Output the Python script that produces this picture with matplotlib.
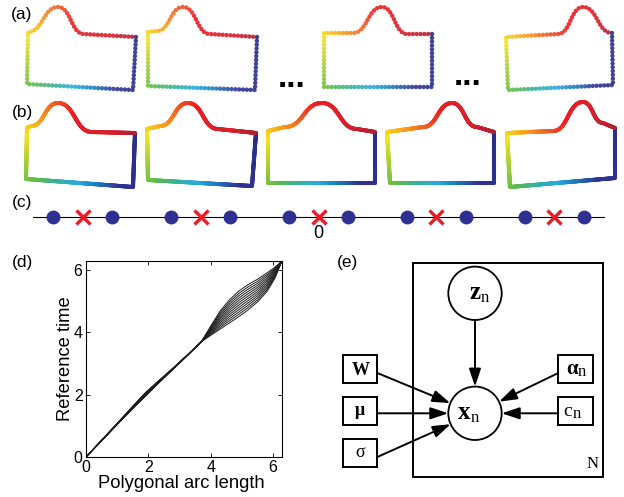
import numpy as np
import matplotlib
matplotlib.use('Agg')
import matplotlib.pyplot as plt
from matplotlib.collections import LineCollection
from matplotlib.colors import LinearSegmentedColormap
from matplotlib.patches import Circle, Rectangle, FancyArrowPatch

plt.rcParams['font.family'] = ['Liberation Sans', 'DejaVu Sans']

# ---------------- data ----------------
# Shape outlines, relative to the top-left corner (px):
# top-right, bottom-right, bottom-left, bump start, bump peak, bump end
shapes_a = [
    [(108, 5), (105, 58), (-1, 52), (0, 0), (30, -25), (56, 2)],
    [(109, 5), (107, 58), (0, 54), (9, -1), (35, -25), (62, 2)],
    [(108, 1), (108, 54), (0, 54), (29, 0), (58, -26), (83, 1)],
    [(106, -4), (107, 48), (2, 53), (52, -3), (77, -30), (106, -4)],
]
shapes_b = [
    [(108, 5), (106, 59), (-1, 51), (4, -2), (31, -25), (65, 4)],
    [(109, 4), (105, 57), (1, 51), (13, -3), (41, -26), (71, 0)],
    [(107, 1), (107, 52), (0, 52), (17, -4), (54, -28), (89, -2)],
    [(107, 0), (107, 51), (3, 51), (36, -5), (65, -29), (90, -5)],
    [(108, -5), (108, 45), (3, 54), (46, -2), (76, -31), (96, -10)],
]

# Panel (c): positions in units of the period
dot_pos = [-2.25, -1.75, -1.25, -0.75, -0.25, 0.25, 0.75, 1.25, 1.75, 2.25]
cross_pos = [-2, -1, 0, 1, 2]

# Panel (d): warping functions, deviation of reference time from arc length
arc_knots = [0, 0.5, 1.0, 1.5, 1.9, 2.3, 2.8, 3.3, 3.7, 4.0, 4.3, 4.6, 4.9, 5.2, 5.5, 5.8, 6.05, 6.28]
warp_dev = [
    [0, .020, .040, .050, .040, .040, .020, .000, 0, -.100, -.200, -.300, -.400, -.480, -.530, -.500, -.330, 0],
    [0, .022, .044, .057, .051, .047, .024, .002, 0, -.073, -.147, -.233, -.325, -.406, -.464, -.445, -.297, 0],
    [0, .024, .047, .065, .062, .055, .027, .004, 0, -.045, -.095, -.165, -.251, -.333, -.397, -.391, -.265, 0],
    [0, .025, .051, .072, .073, .062, .031, .005, 0, -.018, -.042, -.098, -.176, -.259, -.331, -.336, -.232, 0],
    [0, .027, .055, .079, .084, .069, .035, .007, 0, .009, .011, -.031, -.102, -.185, -.265, -.282, -.199, 0],
    [0, .029, .058, .086, .095, .076, .038, .009, 0, .036, .064, .036, -.027, -.112, -.198, -.227, -.166, 0],
    [0, .031, .062, .094, .105, .084, .042, .011, 0, .064, .116, .104, .047, -.038, -.132, -.173, -.134, 0],
    [0, .033, .065, .101, .116, .091, .045, .013, 0, .091, .169, .171, .122, .035, -.065, -.118, -.101, 0],
    [0, .035, .069, .108, .127, .098, .049, .015, 0, .118, .222, .238, .196, .109, .001, -.064, -.068, 0],
    [0, .036, .073, .115, .138, .105, .053, .016, 0, .145, .275, .305, .271, .183, .067, -.009, -.035, 0],
    [0, .038, .076, .123, .149, .113, .056, .018, 0, .173, .327, .373, .345, .256, .134, .045, -.003, 0],
    [0, .040, .080, .130, .160, .120, .060, .020, 0, .200, .380, .440, .420, .330, .200, .100, .030, 0],
]
d_ticks = [0, 2, 4, 6]

# ---------------- layout / style ----------------
W, H = 624, 497
offsets_a = [(28, 32), (148, 32), (324, 33), (506, 37)]
offsets_b = [(27, 128), (147, 129), (268, 131), (387, 132), (507, 133)]

cm_pos = [0.0, 0.20, 0.26, 0.32, 0.385, 0.44, 0.52, 0.60, 0.68, 0.76, 0.80, 0.93, 1.0]
cm_col = ['#2b2e83', '#2e3192', '#1c75bc', '#27aae1', '#35b29a', '#5dba4a', '#a6ce39',
          '#f4e41c', '#f7941d', '#ef4123', '#ed1c24', '#d7202b', '#b11f33']
cmap = LinearSegmentedColormap.from_list('outline', list(zip(cm_pos, cm_col)))


def outline(kp, n=80):
    TR, BR, BL, BS, P, BE = [np.asarray(p, float) for p in kp]
    TL = np.zeros(2)
    t = np.linspace(0, 1, n)[:, None]

    def line(a, b):
        return a + (b - a) * t

    def cubic(p0, p3, k=0.5):
        dx = p3[0] - p0[0]
        p1 = p0 + np.array([k * dx, 0])
        p2 = p3 - np.array([k * dx, 0])
        return ((1 - t) ** 3) * p0 + 3 * ((1 - t) ** 2) * t * p1 + 3 * (1 - t) * t ** 2 * p2 + t ** 3 * p3

    pts = np.vstack([line(TR, BR), line(BR, BL), line(BL, TL), line(TL, BS),
                     cubic(BS, P), cubic(P, BE), line(BE, TR)])
    d = np.hypot(*np.diff(pts, axis=0).T)
    keep = np.concatenate([[True], d > 1e-9])
    pts = pts[keep]
    s = np.concatenate([[0], np.cumsum(d[d > 1e-9])])
    return pts, s


def resample(pts, s, m):
    L = s[-1]
    sn = np.linspace(0, L, m, endpoint=False)
    return np.column_stack([np.interp(sn, s, pts[:, 0]), np.interp(sn, s, pts[:, 1])]), sn / L


fig = plt.figure(figsize=(W / 100, H / 100), dpi=100)
ax = fig.add_axes([0, 0, 1, 1])
ax.set_xlim(0, W)
ax.set_ylim(H, 0)
ax.axis('off')

# panel (a): dotted outlines
for kp, off in zip(shapes_a, offsets_a):
    pts, s = outline(kp)
    m = int(s[-1] / 3.8)
    p, tt = resample(pts, s, m)
    p = p + np.array(off)
    ax.scatter(p[:, 0], p[:, 1], c=cmap(tt), s=10, linewidths=0, alpha=0.9, zorder=3)

# panel (b): smooth outlines
for kp, off in zip(shapes_b, offsets_b):
    pts, s = outline(kp)
    p, tt = resample(pts, s, 600)
    p = np.vstack([p, p[:1]]) + np.array(off)
    segs = np.stack([p[:-1], p[1:]], axis=1)
    lc = LineCollection(segs, colors=cmap(tt), linewidths=2.9, capstyle='round', joinstyle='round')
    ax.add_collection(lc)

ax.text(292, 87, '...', ha='center', va='baseline', fontsize=24, fontweight='bold')
ax.text(468, 85, '...', ha='center', va='baseline', fontsize=24, fontweight='bold')

# panel labels
for lab, (x, y) in zip(['(a)', '(b)', '(c)', '(d)', '(e)'],
                       [(11, 15), (12, 113), (12, 202), (12, 262), (337, 263)]):
    ax.text(x, y, lab, ha='left', va='center', fontsize=12.5)

# panel (e): graphical model
serif = 'Liberation Serif'
ax.add_patch(Rectangle((413, 263), 190, 214, fill=False, lw=1.4, ec='k'))
r = 26.7
cz, cx = (475, 293.3), (475, 413.3)
for c in (cz, cx):
    ax.add_patch(Circle(c, r, fc='white', ec='k', lw=1.3, zorder=3))
boxes = [(343.3, 355, 34, 28.3), (343.3, 396.7, 34, 28.3), (343.3, 439, 34, 27.7),
         (558.3, 355, 34.4, 28.3), (558.3, 396.7, 34.4, 28.3)]
for (bx, by, bw, bh) in boxes:
    ax.add_patch(Rectangle((bx, by), bw, bh, fc='white', ec='k', lw=1.4, zorder=3))

astyle = '-|>,head_length=0.9,head_width=0.3'
ax.add_patch(FancyArrowPatch((475, 293.3 + r), (475, 413.3 - r), arrowstyle=astyle, mutation_scale=12,
                             lw=1.4, color='k', shrinkA=0, shrinkB=0, zorder=4))
for src in [(377.3, 373), (377.3, 413.3), (377.3, 457), (558.3, 373), (558.3, 413.3)]:
    v = np.array(cx) - np.array(src)
    tip = np.array(cx) - r * v / np.hypot(*v)
    ax.add_patch(FancyArrowPatch(src, tuple(tip), arrowstyle=astyle, mutation_scale=12,
                                 lw=1.4, color='k', shrinkA=0, shrinkB=0, zorder=4))


def node_text(x, y, main, sub=None, size=18, bold=True, subsize=12, subdy=3):
    ax.text(x, y, main, ha='right' if sub else 'center', va='baseline', fontsize=size,
            family=serif, fontweight='bold' if bold else 'normal', zorder=5)
    if sub:
        ax.text(x + 0.5, y + subdy, sub, ha='left', va='baseline', fontsize=subsize,
                family=serif, zorder=5)


node_text(480, 299, 'z', 'n')
node_text(470.5, 419, 'x', 'n')
node_text(360.3, 375, 'W', size=13)
node_text(360.3, 415, 'μ', size=13)
node_text(360.3, 457, 'σ', size=13, bold=False)
node_text(577.5, 374, 'α', 'n', size=15, subsize=12, subdy=2)
node_text(572.5, 416, 'c', 'n', size=14, bold=False, subsize=12, subdy=2)
ax.text(593, 468, 'N', ha='center', va='baseline', fontsize=12, family=serif, zorder=5)

# panel (c): number line
axc = fig.add_axes([33 / W, (H - 227) / H, 571 / W, 20 / H])
axc.patch.set_visible(False)
axc.set_xlim(-2.42, 2.42)
axc.set_ylim(-1, 1)
axc.plot(dot_pos, np.zeros(len(dot_pos)), 'o', ms=10, color='#2e3192', mec='none', zorder=3, clip_on=False)
axc.plot(cross_pos, np.zeros(len(cross_pos)), 'x', ms=10, mew=2.4, color='#ed1c24', zorder=3, clip_on=False)
for sname in ['top', 'left', 'right']:
    axc.spines[sname].set_visible(False)
axc.spines['bottom'].set_position(('data', 0))
axc.spines['bottom'].set_linewidth(0.8)
axc.set_xticks([0])
axc.set_xticklabels(['0'])
axc.tick_params(axis='x', length=0, labelsize=13, pad=6)
axc.set_yticks([])

# panel (d): warping functions
axd = fig.add_axes([86 / W, (H - 457) / H, 196 / W, 196 / H])
for row in warp_dev:
    axd.plot(arc_knots, np.array(arc_knots) + np.array(row), color='#1e1e1e', lw=0.7)
axd.set_xlim(0, 2 * np.pi)
axd.set_ylim(0, 2 * np.pi)
axd.set_xticks(d_ticks)
axd.set_yticks(d_ticks)
axd.tick_params(direction='in', top=True, right=True, length=3, width=0.6, labelsize=11.5)
axd.tick_params(axis='x', pad=2.5)
axd.tick_params(axis='y', pad=2.5)
for sp in axd.spines.values():
    sp.set_linewidth(0.8)
axd.set_xlabel('Polygonal arc length', fontsize=13.2)
axd.set_ylabel('Reference time', fontsize=13.2)
axd.xaxis.set_label_coords(0.485, -0.09)
axd.yaxis.set_label_coords(-0.062, 0.5)

fig.savefig('out.png', dpi=100)
